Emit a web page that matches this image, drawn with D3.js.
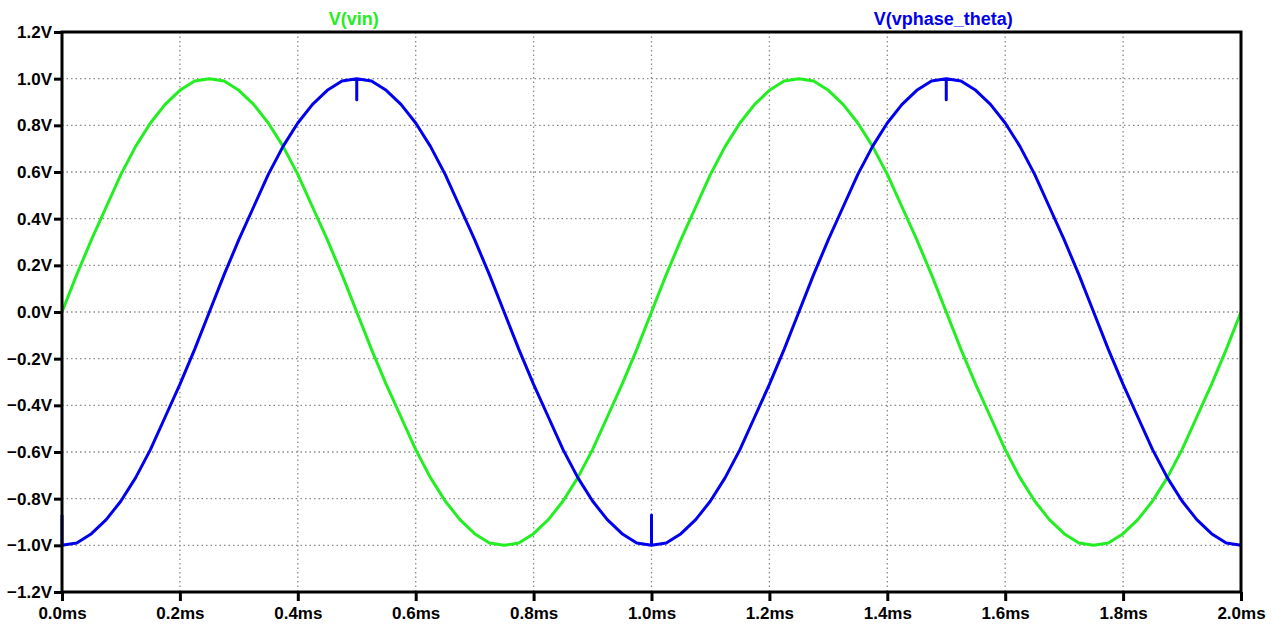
<!DOCTYPE html>
<html><head><meta charset="utf-8">
<script src="https://cdn.jsdelivr.net/npm/d3@7"></script>
<style>body{margin:0;background:#fff;}svg{display:block;}</style>
</head><body>
<svg id="c" width="1279" height="626"></svg>
<script>
// time samples (ms)
const times = [0,0.025,0.05,0.075,0.1,0.125,0.15,0.175,0.2,0.225,0.25,0.275,0.3,0.325,0.35,0.375,0.4,0.425,0.45,0.475,0.5,0.525,0.55,0.575,0.6,0.625,0.65,0.675,0.7,0.725,0.75,0.775,0.8,0.825,0.85,0.875,0.9,0.925,0.95,0.975,1.0,1.025,1.05,1.075,1.1,1.125,1.15,1.175,1.2,1.225,1.25,1.275,1.3,1.325,1.35,1.375,1.4,1.425,1.45,1.475,1.5,1.525,1.55,1.575,1.6,1.625,1.65,1.675,1.7,1.725,1.75,1.775,1.8,1.825,1.85,1.875,1.9,1.925,1.95,1.975,2.0];
// V(vin) values
const vin = [0,0.16,0.31,0.45,0.59,0.71,0.81,0.89,0.95,0.99,1.0,0.99,0.95,0.89,0.81,0.71,0.59,0.45,0.31,0.16,0,-0.16,-0.31,-0.45,-0.59,-0.71,-0.81,-0.89,-0.95,-0.99,-1.0,-0.99,-0.95,-0.89,-0.81,-0.71,-0.59,-0.45,-0.31,-0.16,0,0.16,0.31,0.45,0.59,0.71,0.81,0.89,0.95,0.99,1.0,0.99,0.95,0.89,0.81,0.71,0.59,0.45,0.31,0.16,0,-0.16,-0.31,-0.45,-0.59,-0.71,-0.81,-0.89,-0.95,-0.99,-1.0,-0.99,-0.95,-0.89,-0.81,-0.71,-0.59,-0.45,-0.31,-0.16,0];
// V(vphase_theta) values
const vphase = [-1.0,-0.99,-0.95,-0.89,-0.81,-0.71,-0.59,-0.45,-0.31,-0.16,0,0.16,0.31,0.45,0.59,0.71,0.81,0.89,0.95,0.99,1.0,0.99,0.95,0.89,0.81,0.71,0.59,0.45,0.31,0.16,0,-0.16,-0.31,-0.45,-0.59,-0.71,-0.81,-0.89,-0.95,-0.99,-1.0,-0.99,-0.95,-0.89,-0.81,-0.71,-0.59,-0.45,-0.31,-0.16,0,0.16,0.31,0.45,0.59,0.71,0.81,0.89,0.95,0.99,1.0,0.99,0.95,0.89,0.81,0.71,0.59,0.45,0.31,0.16,0,-0.16,-0.31,-0.45,-0.59,-0.71,-0.81,-0.89,-0.95,-0.99,-1.0];
// glitch spikes on V(vphase_theta): [time, spike value]
const spikes = [[0,-0.87],[0.5,0.91],[1.0,-0.87],[1.5,0.91]];
const xTicks = [0,0.2,0.4,0.6,0.8,1.0,1.2,1.4,1.6,1.8,2.0];
const yTicks = [-1.2,-1.0,-0.8,-0.6,-0.4,-0.2,0,0.2,0.4,0.6,0.8,1.0,1.2];
const seriesNames = ["V(vin)","V(vphase_theta)"];

const L=62,R=1241,T=32,B=592;
const svg=d3.select("#c");
const x=d3.scaleLinear().domain([0,2]).range([L,R]);
const y=d3.scaleLinear().domain([-1.2,1.2]).range([B,T]);
const font="'Liberation Sans', Arial, sans-serif";

// grid
const g=svg.append("g");
g.selectAll(".vx").data(xTicks.slice(1,-1)).join("line")
 .attr("x1",d=>x(d)).attr("x2",d=>x(d)).attr("y1",T).attr("y2",B)
 .attr("stroke","#8a8a8a").attr("stroke-width",1.3).attr("stroke-dasharray","1.5,3");
g.selectAll(".hy").data(yTicks.slice(1,-1)).join("line")
 .attr("y1",d=>y(d)).attr("y2",d=>y(d)).attr("x1",L).attr("x2",R)
 .attr("stroke","#8a8a8a").attr("stroke-width",1.3).attr("stroke-dasharray","1.5,3");

// axes
const xAxis=svg.append("g").attr("transform",`translate(0,${B})`)
 .call(d3.axisBottom(x).tickValues(xTicks).tickSize(9).tickPadding(6).tickFormat(d=>d3.format(".1f")(d)+"ms"));
const yAxis=svg.append("g").attr("transform",`translate(${L},0)`)
 .call(d3.axisLeft(y).tickValues(yTicks).tickSize(8).tickPadding(2).tickFormat(d=>d3.format(".1f")(d)+"V"));
[xAxis,yAxis].forEach(a=>{
  a.select(".domain").remove();
  a.selectAll(".tick line").attr("stroke","#000").attr("stroke-width",3);
  a.selectAll("text").attr("font-family",font).attr("font-weight","bold").attr("font-size",17).attr("fill","#000");
});

// lines
const line=d3.line().x(d=>x(d[0])).y(d=>y(d[1]));
const vinPts=times.map((t,i)=>[t,vin[i]]);
const phPts=[];
times.forEach((t,i)=>{
  const s=spikes.find(p=>Math.abs(p[0]-t)<1e-9);
  if(s){ if(i>0) phPts.push([t,vphase[i]]); phPts.push([t,s[1]]); }
  phPts.push([t,vphase[i]]);
});
svg.append("path").attr("d",line(vinPts)).attr("fill","none").attr("stroke","#22ee22").attr("stroke-width",3).attr("stroke-linejoin","round");
svg.append("path").attr("d",line(phPts)).attr("fill","none").attr("stroke","#0000ee").attr("stroke-width",3).attr("stroke-linejoin","round");

// frame
svg.append("rect").attr("x",L).attr("y",T).attr("width",R-L).attr("height",B-T)
 .attr("fill","none").attr("stroke","#000").attr("stroke-width",3);

// titles
const tpos=[0.5,1.5], tcol=["#22ee22","#0000ee"];
seriesNames.forEach((n,i)=>{
  svg.append("text").attr("x",x(tpos[i])-3).attr("y",25).attr("text-anchor","middle")
   .attr("font-family",font).attr("font-weight","bold").attr("font-size",18).attr("fill",tcol[i]).text(n);
});
</script>
</body></html>
